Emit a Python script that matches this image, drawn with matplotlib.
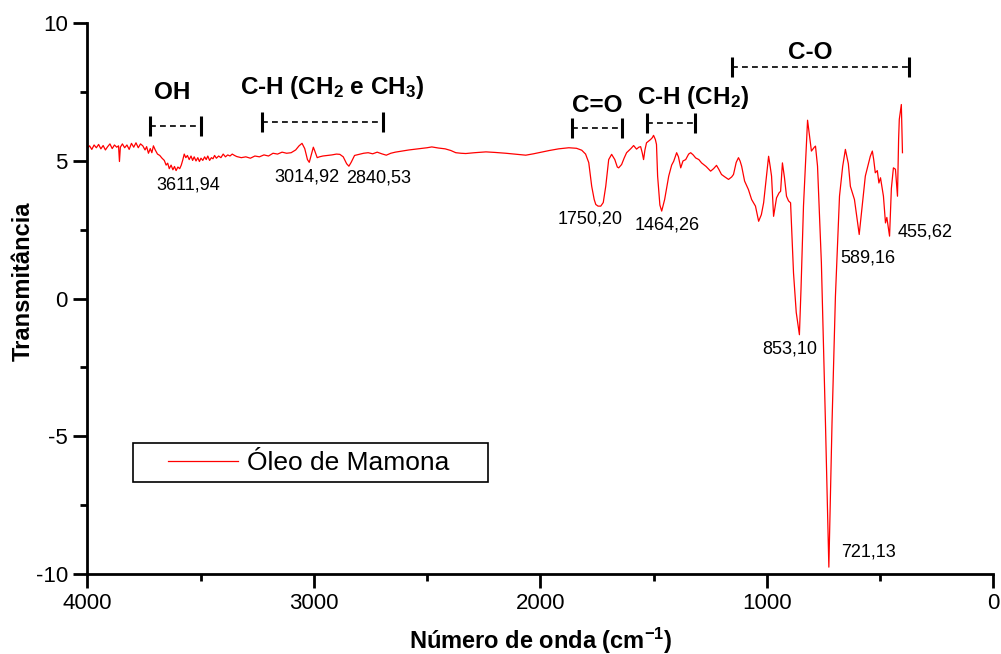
import numpy as np
import matplotlib
matplotlib.use('Agg')
import matplotlib.pyplot as plt
from matplotlib.ticker import MultipleLocator
from matplotlib.patches import Rectangle

plt.rcParams['font.family'] = ['Liberation Sans', 'DejaVu Sans']
plt.rcParams['mathtext.fontset'] = 'custom'
plt.rcParams['mathtext.rm'] = 'Liberation Sans'
plt.rcParams['mathtext.bf'] = 'Liberation Sans:bold'
plt.rcParams['mathtext.default'] = 'regular'
plt.rcParams['axes.unicode_minus'] = False

# espectro FTIR
numero_onda = np.array([
    4000, 3990, 3980, 3970, 3960, 3950, 3940, 3930, 3920, 3910, 3900, 3890,
    3880, 3870, 3862, 3858, 3854, 3845, 3835, 3825, 3815, 3805, 3795, 3785,
    3775, 3765, 3755, 3745, 3738, 3730, 3722, 3715, 3708, 3700, 3690, 3680,
    3670, 3660, 3652, 3645, 3638, 3630, 3622, 3615, 3608, 3600, 3592, 3585,
    3578, 3572, 3565, 3558, 3550, 3542, 3535, 3528, 3520, 3512, 3505, 3498,
    3490, 3482, 3475, 3468, 3460, 3452, 3445, 3438, 3430, 3420, 3410, 3400,
    3390, 3380, 3370, 3360, 3350, 3340, 3320, 3300, 3280, 3260, 3240, 3220,
    3200, 3180, 3160, 3140, 3120, 3100, 3080, 3065, 3052, 3040, 3028, 3020,
    3012, 3002, 2995, 2985, 2975, 2960, 2940, 2920, 2900, 2885, 2870, 2855,
    2845, 2835, 2820, 2800, 2780, 2760, 2740, 2720, 2700, 2680, 2660, 2640,
    2610, 2580, 2540, 2500, 2479, 2450, 2420, 2395, 2373, 2350, 2329, 2290,
    2240, 2200, 2152, 2100, 2064, 2030, 2007, 1960, 1919, 1874, 1840, 1817,
    1800, 1786, 1773, 1762, 1755, 1745, 1733, 1722, 1711, 1698, 1685, 1671,
    1660, 1654, 1641, 1630, 1619, 1600, 1588, 1575, 1565, 1557, 1550, 1544,
    1538, 1531, 1522, 1513, 1505, 1500, 1492, 1487, 1482, 1472, 1464, 1451,
    1433, 1420, 1411, 1398, 1390, 1380, 1370, 1358, 1345, 1336, 1325, 1314,
    1300, 1288, 1268, 1248, 1235, 1222, 1212, 1200, 1185, 1169, 1155, 1147,
    1135, 1125, 1118, 1111, 1098, 1081, 1067, 1050, 1036, 1024, 1014, 1002,
    992, 985, 979, 970, 957, 946, 939, 931, 922, 913, 904, 895,
    882, 870, 856, 849, 838, 820, 803, 790, 785, 776, 759, 741,
    726, 712, 697, 679, 665, 653, 640, 631, 613, 603, 592, 582,
    565, 543, 534, 528, 521, 512, 505, 498, 485, 476, 470, 458,
    450, 441, 432, 423, 418, 415, 406, 401])

transmitancia = np.array([
    5.45, 5.55, 5.42, 5.58, 5.48, 5.60, 5.44, 5.56, 5.40, 5.52, 5.62, 5.45,
    5.58, 5.50, 5.55, 4.98, 5.50, 5.62, 5.48, 5.58, 5.42, 5.64, 5.50, 5.66,
    5.48, 5.62, 5.55, 5.40, 5.52, 5.28, 5.45, 5.30, 5.55, 5.40, 5.25, 5.20,
    5.10, 5.02, 4.85, 4.92, 4.72, 4.85, 4.68, 4.80, 4.65, 4.78, 4.72, 4.85,
    5.05, 5.25, 5.12, 5.20, 5.05, 5.18, 5.02, 5.15, 5.00, 5.12, 4.98, 5.10,
    5.02, 5.15, 5.05, 5.18, 5.02, 5.12, 5.08, 5.20, 5.10, 5.18, 5.12, 5.25,
    5.15, 5.22, 5.18, 5.25, 5.20, 5.16, 5.12, 5.15, 5.10, 5.18, 5.15, 5.22,
    5.18, 5.28, 5.25, 5.32, 5.28, 5.30, 5.40, 5.55, 5.64, 5.45, 5.05, 4.95,
    5.20, 5.50, 5.35, 5.12, 5.15, 5.18, 5.20, 5.22, 5.25, 5.24, 5.15, 4.90,
    4.81, 4.95, 5.20, 5.24, 5.28, 5.30, 5.26, 5.32, 5.26, 5.21, 5.28, 5.32,
    5.36, 5.40, 5.44, 5.48, 5.51, 5.47, 5.44, 5.38, 5.30, 5.28, 5.27, 5.30,
    5.33, 5.31, 5.28, 5.24, 5.21, 5.26, 5.30, 5.38, 5.44, 5.48, 5.46, 5.39,
    5.25, 4.94, 4.08, 3.60, 3.42, 3.36, 3.36, 3.49, 4.08, 5.05, 5.24, 5.05,
    4.78, 4.75, 4.87, 5.10, 5.30, 5.45, 5.56, 5.43, 5.50, 5.52, 5.30, 5.05,
    5.40, 5.66, 5.72, 5.78, 5.85, 5.93, 5.78, 5.60, 4.45, 3.40, 3.18, 3.60,
    4.45, 4.85, 4.99, 5.30, 5.15, 4.75, 5.00, 5.05, 5.25, 5.30, 5.22, 5.11,
    5.05, 4.93, 4.80, 4.63, 4.72, 4.84, 4.70, 4.51, 4.42, 4.33, 4.42, 4.51,
    4.95, 5.12, 5.00, 4.81, 4.27, 3.96, 3.60, 3.36, 2.81, 3.05, 3.48, 4.40,
    5.17, 4.80, 4.45, 2.99, 3.66, 3.84, 3.90, 4.93, 4.40, 3.72, 3.55, 3.48,
    0.93, -0.50, -1.31, 0.33, 3.36, 6.48, 5.36, 5.50, 5.54, 4.81, 1.30, -4.51,
    -9.75, -4.51, 0.08, 3.72, 4.80, 5.42, 4.90, 4.08, 3.60, 3.00, 2.33, 3.12,
    4.45, 5.17, 5.36, 5.05, 4.57, 4.65, 4.20, 4.39, 3.72, 2.75, 2.95, 2.27,
    4.00, 4.75, 4.70, 3.72, 5.80, 6.51, 7.05, 5.30])

# etiquetas de picos
picos_txt = ['3611,94', '3014,92', '2840,53', '1750,20', '1464,26',
             '853,10', '589,16', '455,62', '721,13']
picos_x = [3555, 3030, 2712, 1781, 1441, 898, 553, 301, 553]
picos_y = [4.13, 4.42, 4.38, 2.89, 2.68, -1.83, 1.48, 2.42, -9.2]

# grupos funcionales
grupos_txt = ['OH', 'C-H (CH$_2$ e CH$_3$)', 'C=O', 'C-H (CH$_2$)', 'C-O']
grupos_x = [3626, 2920, 1749, 1326, 806]
grupos_y = [7.50, 7.66, 7.03, 7.32, 8.95]
rango_ini = [3723, 3229, 1860, 1529, 1154]
rango_fin = [3497, 2695, 1639, 1317, 372]
rango_y = [6.27, 6.42, 6.20, 6.37, 8.41]

fig = plt.figure(figsize=(10.01, 6.54), dpi=100)
ax = fig.add_axes([0.0872, 0.1223, 0.9051, 0.8421])

ax.plot(numero_onda, transmitancia, color='red', lw=0.9, label='Óleo de Mamona')

for t, x, y in zip(picos_txt, picos_x, picos_y):
    ax.text(x, y, t, fontsize=13, ha='center', va='center')

for t, x, y in zip(grupos_txt, grupos_x, grupos_y):
    ax.text(x, y, t, fontsize=17.5, fontweight='bold', ha='center', va='center')

h = 0.36
for a, b, y in zip(rango_ini, rango_fin, rango_y):
    ax.plot([a, b], [y, y], color='black', lw=1.2, dashes=(3.5, 2.5))
    ax.plot([a, a], [y - h, y + h], color='black', lw=2.2, solid_capstyle='butt')
    ax.plot([b, b], [y - h, y + h], color='black', lw=2.2, solid_capstyle='butt')

ax.set_xlim(4000, 0)
ax.set_ylim(-10, 10)
ax.xaxis.set_major_locator(MultipleLocator(1000))
ax.xaxis.set_minor_locator(MultipleLocator(500))
ax.yaxis.set_major_locator(MultipleLocator(5))
ax.yaxis.set_minor_locator(MultipleLocator(2.5))
ax.spines['top'].set_visible(False)
ax.spines['right'].set_visible(False)
ax.spines['left'].set_linewidth(2)
ax.spines['bottom'].set_linewidth(2)
ax.tick_params(which='major', direction='out', length=10, width=2, labelsize=16, pad=4)
ax.tick_params(which='minor', direction='out', length=5, width=2)

ax.set_xlabel('Número de onda (cm$^{-1}$)', fontsize=17, fontweight='bold', labelpad=8)
ax.set_ylabel('Transmitância', fontsize=17, fontweight='bold')
ax.yaxis.set_label_coords(-0.058, 0.532)

# leyenda con marco propio
ax.add_patch(Rectangle((0.0504, 0.1671), 0.3919, 0.0708, transform=ax.transAxes,
                       facecolor='white', edgecolor='black', lw=1.2, zorder=4))
leg = ax.legend(loc='center left', bbox_to_anchor=(0.0891, 0.2016), borderaxespad=0,
                borderpad=0, fontsize=19, frameon=False,
                handlelength=2.65, handletextpad=0.34)
leg.set_zorder(5)

plt.savefig('out.png', dpi=100)
